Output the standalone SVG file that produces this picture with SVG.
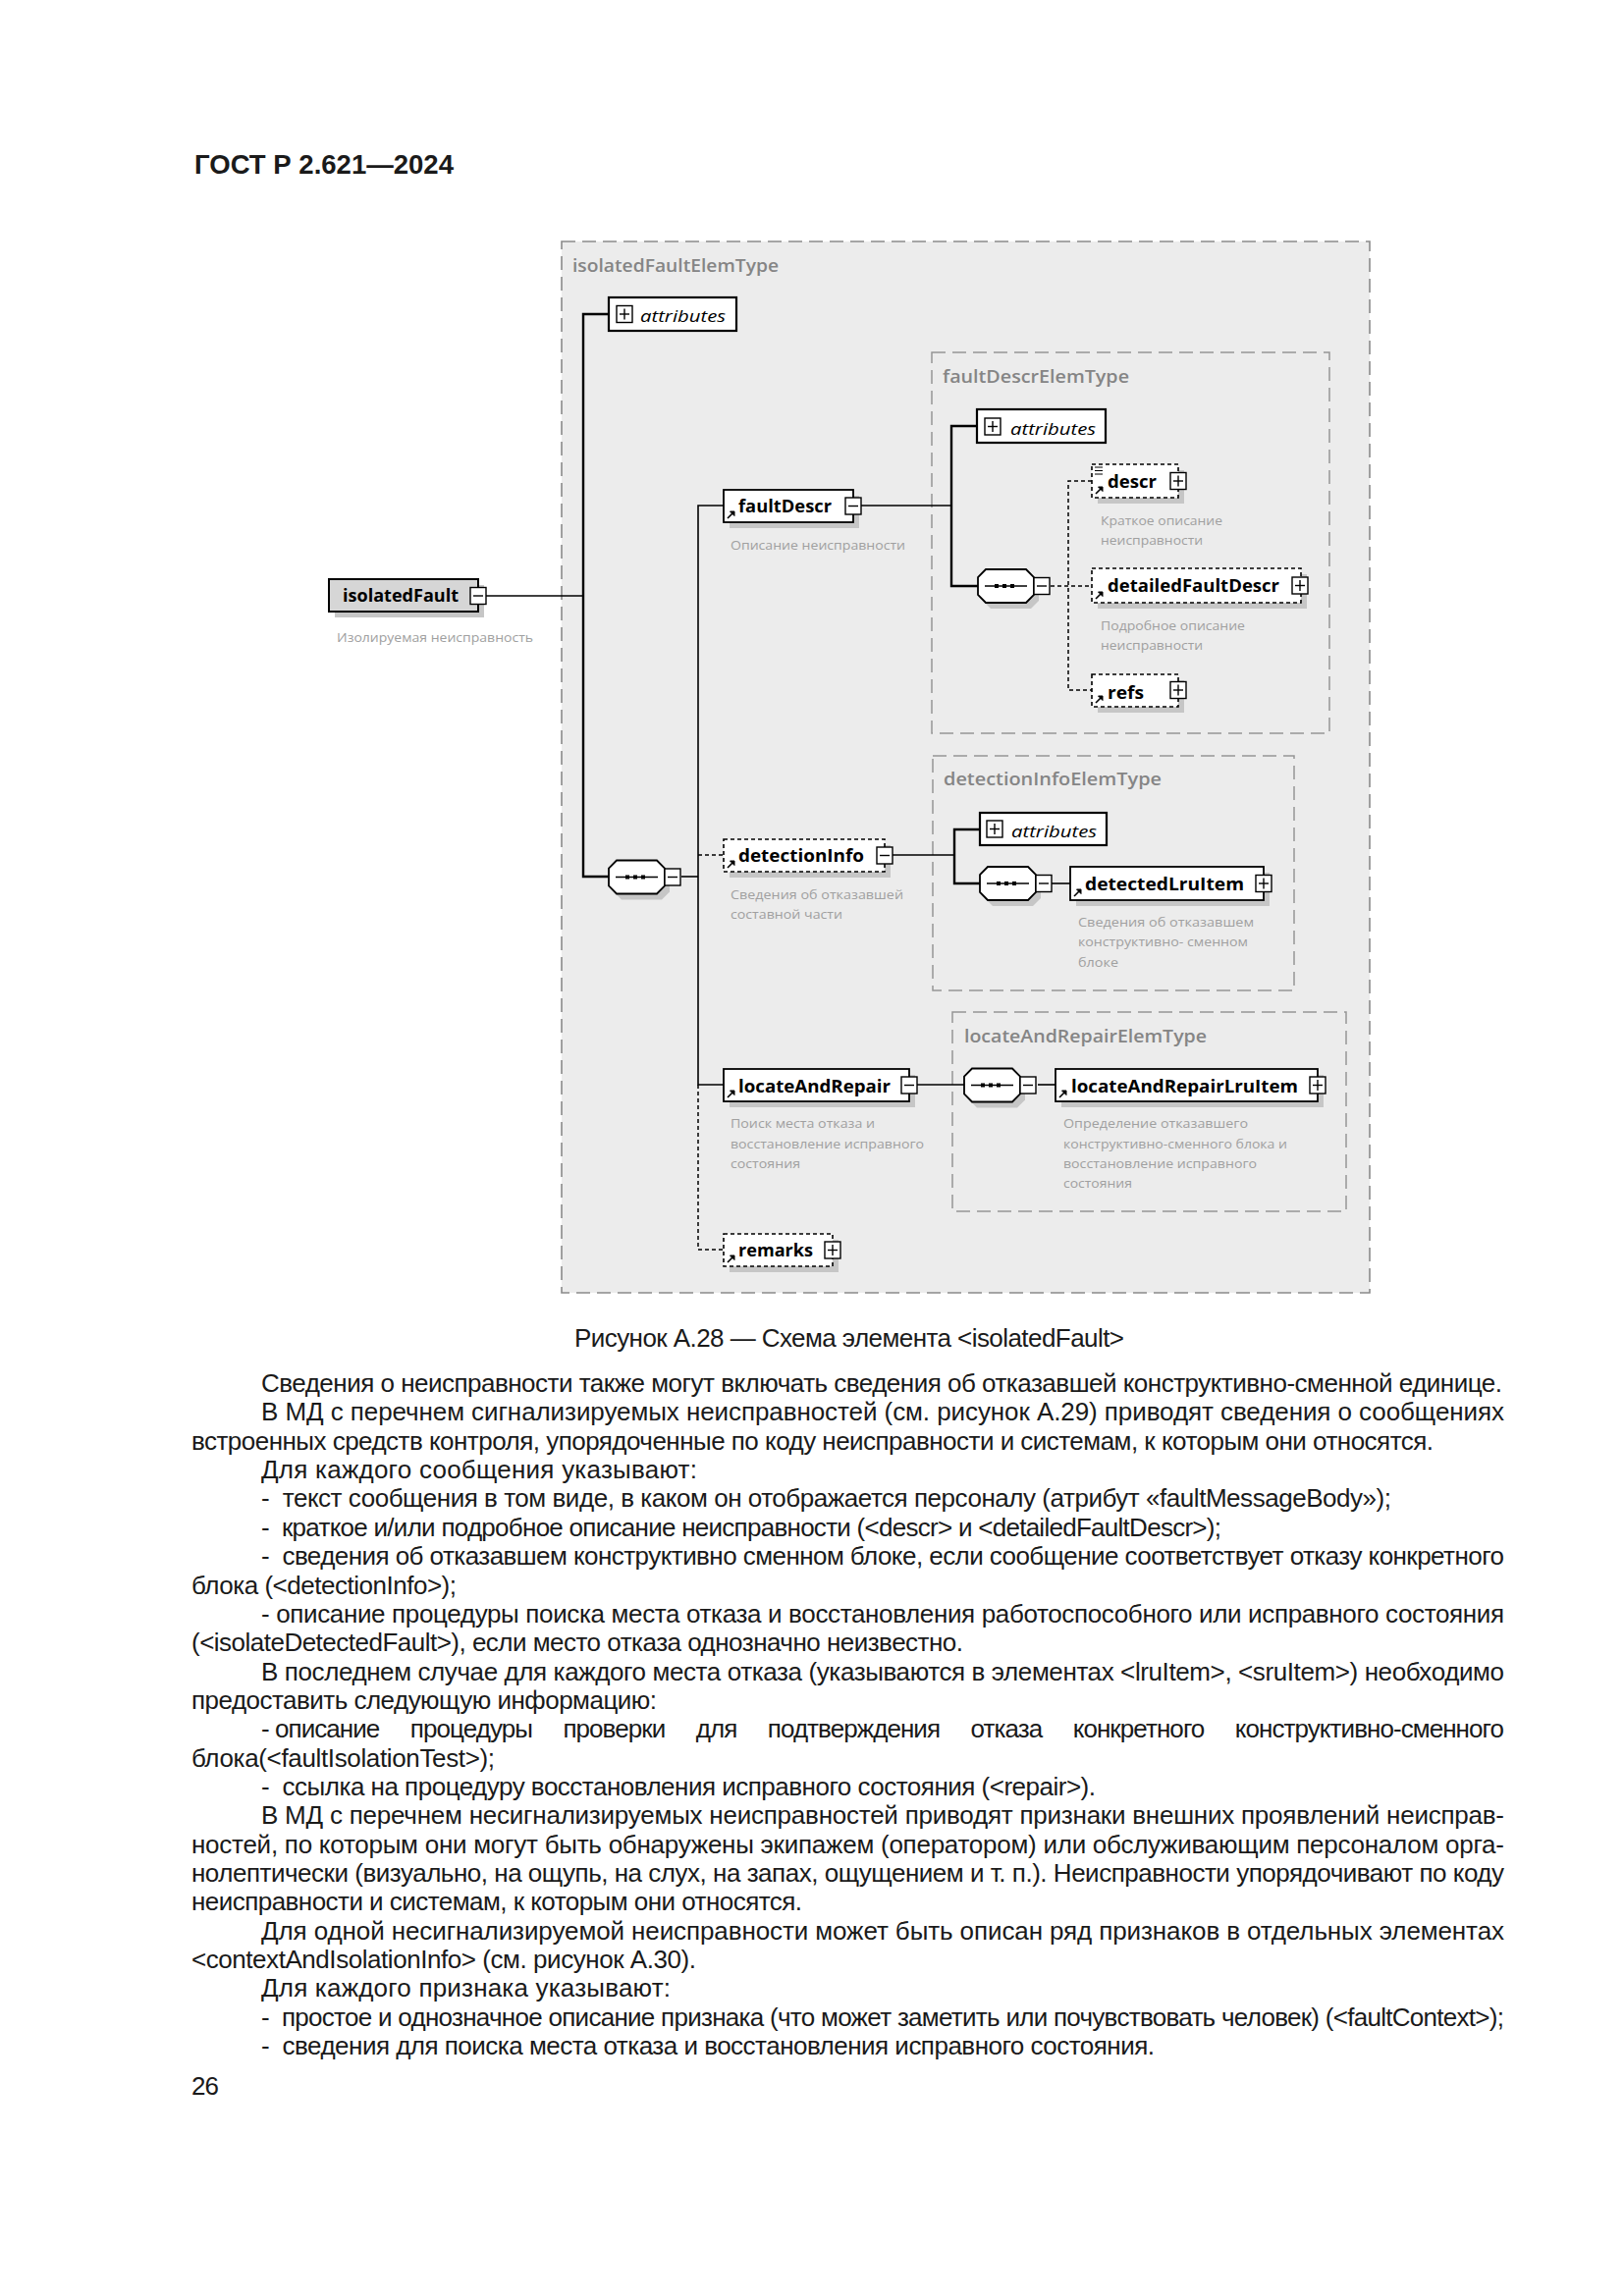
<svg xmlns="http://www.w3.org/2000/svg" xmlns:xlink="http://www.w3.org/1999/xlink" width="1654" height="2339" viewBox="0 0 1654 2339">
<style>
.page{fill:#ffffff}
.outer{fill:#ececec;stroke:#8a8a8a;stroke-width:1.6;stroke-dasharray:14 7}
.tbox{fill:#ececec;stroke:#959595;stroke-width:1.5;stroke-dasharray:14 7}
.ttl{font-family:"Open Sans","Noto Sans",sans-serif;font-weight:600;font-size:18px;fill:#858585}
.node{fill:#ffffff;stroke:#000;stroke-width:1.8}
.root{fill:#d6d6d6;stroke:#000;stroke-width:2}
.opt{fill:#ffffff;stroke:#000;stroke-width:1.6;stroke-dasharray:4 3}
.attr{fill:#ffffff;stroke:#000;stroke-width:2.2}
.shd{fill:#c6c6c6}
.nt{font-family:"Open Sans","Noto Sans",sans-serif;font-weight:bold;font-size:18px;fill:#000}
.at{font-family:"Open Sans","Noto Sans",sans-serif;font-style:italic;font-size:17px;fill:#000}
.lb{font-family:"Open Sans","Noto Sans",sans-serif;font-size:12.5px;fill:#a0a0a0}
.ln{fill:none;stroke:#000;stroke-width:1.6}
.lnb{fill:none;stroke:#000;stroke-width:2.4}
.dl{fill:none;stroke:#000;stroke-width:1.5;stroke-dasharray:4 3}
.pm{fill:#ffffff;stroke:#000;stroke-width:1.4}
.body{font-family:"Liberation Sans",Arial,sans-serif;font-size:26px;fill:#1a1a1a;white-space:pre}
.hdr{font-family:"Liberation Sans",Arial,sans-serif;font-size:27px;font-weight:bold;fill:#1a1a1a}
</style>
<defs>
<g id="minus"><rect class="pm" x="0" y="0" width="16" height="17"/><line x1="3" y1="8.5" x2="13" y2="8.5" stroke="#000" stroke-width="1.4"/></g>
<g id="plus"><rect class="pm" x="0" y="0" width="16" height="17"/><line x1="3" y1="8.5" x2="13" y2="8.5" stroke="#000" stroke-width="1.4"/><line x1="8" y1="3" x2="8" y2="14" stroke="#000" stroke-width="1.4"/></g>
<g id="ref"><path d="M2,-2 L8,-8" stroke="#000" stroke-width="1.6" fill="none"/><path d="M4.5,-9 L9,-9 L9,-4.5 Z" fill="#000" stroke="#000" stroke-width="1"/></g>
<g id="seq">
<polygon class="shd" points="13,6 54,6 62,14 62,32 54,40 13,40 5,32 5,14"/>
<polygon fill="#ffffff" stroke="#000" stroke-width="1.8" points="8,0 49,0 57,8 57,26 49,34 8,34 0,26 0,8"/>
<line x1="7" y1="17" x2="50" y2="17" stroke="#000" stroke-width="1.6"/>
<rect x="17" y="15" width="4" height="4" fill="#000"/><rect x="25" y="15" width="4" height="4" fill="#000"/><rect x="33" y="15" width="4" height="4" fill="#000"/>
<use xlink:href="#minus" x="57" y="8.5"/>
</g>
</defs>

<rect class="page" x="0" y="0" width="1654" height="2339"/>
<text class="hdr" x="198" y="177" textLength="264" lengthAdjust="spacingAndGlyphs">ГОСТ Р 2.621—2024</text>

<g id="isolatedFaultElemType">
<rect class="outer" x="572" y="246" width="823" height="1071"/>
<text class="ttl" x="583" y="277" textLength="210" lengthAdjust="spacingAndGlyphs">isolatedFaultElemType</text>
</g>
<g id="faultDescrElemType">
<rect class="tbox" x="949" y="359" width="405" height="388"/>
<text class="ttl" x="960" y="390" textLength="190" lengthAdjust="spacingAndGlyphs">faultDescrElemType</text>
</g>
<g id="detectionInfoElemType">
<rect class="tbox" x="950" y="770" width="368" height="239"/>
<text class="ttl" x="961" y="800" textLength="222" lengthAdjust="spacingAndGlyphs">detectionInfoElemType</text>
</g>
<g id="locateAndRepairElemType">
<rect class="tbox" x="970" y="1031" width="401" height="203"/>
<text class="ttl" x="982" y="1062" textLength="247" lengthAdjust="spacingAndGlyphs">locateAndRepairElemType</text>
</g>

<g id="connectors">
<path class="ln" d="M495,607 H594"/>
<path class="lnb" d="M620,320 H594 V893 H620"/>
<path class="ln" d="M694,893 H711"/>
<path class="ln" d="M737,515 H711 V1105 H737"/>
<path class="dl" d="M711,871 H737"/>
<path class="dl" d="M711,1105 V1273 H737"/>
<path class="ln" d="M877,515 H969"/>
<path class="lnb" d="M995,434 H969 V597 H996"/>
<path class="dl" d="M1070,597 H1112"/>
<path class="dl" d="M1112,490 H1088 V703 H1112"/>
<path class="ln" d="M909,871 H972"/>
<path class="lnb" d="M998,845 H972 V900 H998"/>
<path class="ln" d="M1071,900 H1090"/>
<path class="ln" d="M934,1105 H982"/>
<path class="ln" d="M1057,1105 H1075"/>
</g>

<g id="isolatedFault">
<rect class="shd" x="341" y="596" width="152" height="33"/>
<rect class="root" x="335" y="590" width="152" height="33"/>
<text class="nt" x="349" y="613" textLength="118" lengthAdjust="spacingAndGlyphs">isolatedFault</text>
<use xlink:href="#minus" x="479" y="598.5"/>
<text class="lb" x="343" y="654" textLength="200" lengthAdjust="spacingAndGlyphs">Изолируемая неисправность</text>
</g>

<g id="attributes1">
<rect class="attr" x="620" y="303" width="130" height="34"/>
<use xlink:href="#plus" x="628" y="311.5"/>
<text class="at" x="652" y="328" textLength="87" lengthAdjust="spacingAndGlyphs">attributes</text>
</g>

<g id="sequence1"><use xlink:href="#seq" transform="translate(620,876.5)"/></g>

<g id="faultDescr">
<rect class="shd" x="743" y="505" width="132" height="33"/>
<rect class="node" x="737" y="499" width="132" height="33"/>
<use xlink:href="#ref" x="739" y="530"/>
<text class="nt" x="752" y="522" textLength="95" lengthAdjust="spacingAndGlyphs">faultDescr</text>
<use xlink:href="#minus" x="861" y="507"/>
<text class="lb" x="744" y="560" textLength="178" lengthAdjust="spacingAndGlyphs">Описание неисправности</text>
</g>

<g id="attributes2">
<rect class="attr" x="995" y="417" width="131" height="34"/>
<use xlink:href="#plus" x="1003" y="426"/>
<text class="at" x="1029" y="443" textLength="87" lengthAdjust="spacingAndGlyphs">attributes</text>
</g>

<g id="sequence2"><use xlink:href="#seq" transform="translate(996,580)"/></g>

<g id="descr">
<rect class="shd" x="1118" y="479" width="88" height="34"/>
<rect class="opt" x="1112" y="473" width="88" height="34"/>
<path d="M1115,476 H1123 M1115,479.5 H1123 M1115,483 H1123" stroke="#000" stroke-width="1.2"/>
<use xlink:href="#ref" x="1114" y="505"/>
<text class="nt" x="1128" y="497" textLength="50" lengthAdjust="spacingAndGlyphs">descr</text>
<use xlink:href="#plus" x="1192" y="481.5"/>
<text class="lb" x="1121" y="535" textLength="124" lengthAdjust="spacingAndGlyphs">Краткое описание</text>
<text class="lb" x="1121" y="555" textLength="104" lengthAdjust="spacingAndGlyphs">неисправности</text>
</g>

<g id="detailedFaultDescr">
<rect class="shd" x="1118" y="585" width="213" height="35"/>
<rect class="opt" x="1112" y="579" width="213" height="35"/>
<use xlink:href="#ref" x="1114" y="612"/>
<text class="nt" x="1128" y="603" textLength="175" lengthAdjust="spacingAndGlyphs">detailedFaultDescr</text>
<use xlink:href="#plus" x="1316" y="588"/>
<text class="lb" x="1121" y="642" textLength="147" lengthAdjust="spacingAndGlyphs">Подробное описание</text>
<text class="lb" x="1121" y="662" textLength="104" lengthAdjust="spacingAndGlyphs">неисправности</text>
</g>

<g id="refs">
<rect class="shd" x="1118" y="693" width="88" height="33"/>
<rect class="opt" x="1112" y="687" width="88" height="33"/>
<use xlink:href="#ref" x="1114" y="718"/>
<text class="nt" x="1128" y="712" textLength="37" lengthAdjust="spacingAndGlyphs">refs</text>
<use xlink:href="#plus" x="1192" y="694.5"/>
</g>

<g id="detectionInfo">
<rect class="shd" x="743" y="861" width="164" height="33"/>
<rect class="opt" x="737" y="855" width="164" height="33"/>
<use xlink:href="#ref" x="739" y="886"/>
<text class="nt" x="752" y="878" textLength="128" lengthAdjust="spacingAndGlyphs">detectionInfo</text>
<use xlink:href="#minus" x="893" y="863"/>
<text class="lb" x="744" y="916" textLength="176" lengthAdjust="spacingAndGlyphs">Сведения об отказавшей</text>
<text class="lb" x="744" y="936" textLength="114" lengthAdjust="spacingAndGlyphs">составной части</text>
</g>

<g id="attributes3">
<rect class="attr" x="998" y="828" width="129" height="33"/>
<use xlink:href="#plus" x="1005" y="836"/>
<text class="at" x="1030" y="853" textLength="87" lengthAdjust="spacingAndGlyphs">attributes</text>
</g>

<g id="sequence3"><use xlink:href="#seq" transform="translate(998,883)"/></g>

<g id="detectedLruItem">
<rect class="shd" x="1096" y="889" width="197" height="34"/>
<rect class="node" x="1090" y="883" width="197" height="34"/>
<use xlink:href="#ref" x="1092" y="915"/>
<text class="nt" x="1105" y="907" textLength="162" lengthAdjust="spacingAndGlyphs">detectedLruItem</text>
<use xlink:href="#plus" x="1279" y="891.5"/>
<text class="lb" x="1098" y="944" textLength="179" lengthAdjust="spacingAndGlyphs">Сведения об отказавшем</text>
<text class="lb" x="1098" y="964" textLength="173" lengthAdjust="spacingAndGlyphs">конструктивно- сменном</text>
<text class="lb" x="1098" y="985" textLength="41" lengthAdjust="spacingAndGlyphs">блоке</text>
</g>

<g id="locateAndRepair">
<rect class="shd" x="743" y="1095" width="189" height="33"/>
<rect class="node" x="737" y="1089" width="189" height="33"/>
<use xlink:href="#ref" x="739" y="1120"/>
<text class="nt" x="752" y="1113" textLength="155" lengthAdjust="spacingAndGlyphs">locateAndRepair</text>
<use xlink:href="#minus" x="918" y="1097"/>
<text class="lb" x="744" y="1149" textLength="147" lengthAdjust="spacingAndGlyphs">Поиск места отказа и</text>
<text class="lb" x="744" y="1170" textLength="197" lengthAdjust="spacingAndGlyphs">восстановление исправного</text>
<text class="lb" x="744" y="1190" textLength="71" lengthAdjust="spacingAndGlyphs">состояния</text>
</g>

<g id="sequence4"><use xlink:href="#seq" transform="translate(982,1088.5)"/></g>

<g id="locateAndRepairLruItem">
<rect class="shd" x="1081" y="1095" width="267" height="33"/>
<rect class="node" x="1075" y="1089" width="267" height="33"/>
<use xlink:href="#ref" x="1077" y="1120"/>
<text class="nt" x="1091" y="1113" textLength="231" lengthAdjust="spacingAndGlyphs">locateAndRepairLruItem</text>
<use xlink:href="#plus" x="1334" y="1097"/>
<text class="lb" x="1083" y="1149" textLength="188" lengthAdjust="spacingAndGlyphs">Определение отказавшего</text>
<text class="lb" x="1083" y="1170" textLength="228" lengthAdjust="spacingAndGlyphs">конструктивно-сменного блока и</text>
<text class="lb" x="1083" y="1190" textLength="197" lengthAdjust="spacingAndGlyphs">восстановление исправного</text>
<text class="lb" x="1083" y="1210" textLength="70" lengthAdjust="spacingAndGlyphs">состояния</text>
</g>

<g id="remarks">
<rect class="shd" x="743" y="1263" width="111" height="33"/>
<rect class="opt" x="737" y="1257" width="111" height="33"/>
<use xlink:href="#ref" x="739" y="1288"/>
<text class="nt" x="752" y="1280" textLength="76" lengthAdjust="spacingAndGlyphs">remarks</text>
<use xlink:href="#plus" x="840" y="1265"/>
</g>

<g id="caption-and-text">
<text class="body" x="585" y="1372" font-size="25" textLength="560">Рисунок А.28 — Схема элемента &lt;isolatedFault&gt;</text>
<text class="body" x="266" y="1418" textLength="1264">Сведения о неисправности также могут включать сведения об отказавшей конструктивно-сменной единице.</text>
<text class="body" x="266" y="1447.4" textLength="1266">В МД с перечнем сигнализируемых неисправностей (см. рисунок А.29) приводят сведения о сообщениях</text>
<text class="body" x="195" y="1476.7" textLength="1265">встроенных средств контроля, упорядоченные по коду неисправности и системам, к которым они относятся.</text>
<text class="body" x="266" y="1506" textLength="444">Для каждого сообщения указывают:</text>
<text class="body" x="266" y="1535.4" textLength="1151">-  текст сообщения в том виде, в каком он отображается персоналу (атрибут «faultMessageBody»);</text>
<text class="body" x="266" y="1564.8" textLength="978">-  краткое и/или подробное описание неисправности (&lt;descr&gt; и &lt;detailedFaultDescr&gt;);</text>
<text class="body" x="266" y="1594.1" textLength="1266">-  сведения об отказавшем конструктивно сменном блоке, если сообщение соответствует отказу конкретного</text>
<text class="body" x="195" y="1623.5" textLength="270">блока (&lt;detectionInfo&gt;);</text>
<text class="body" x="266" y="1652.8" textLength="1266">- описание процедуры поиска места отказа и восстановления работоспособного или исправного состояния</text>
<text class="body" x="195" y="1682.2" textLength="786">(&lt;isolateDetectedFault&gt;), если место отказа однозначно неизвестно.</text>
<text class="body" x="266" y="1711.5" textLength="1266">В последнем случае для каждого места отказа (указываются в элементах &lt;lruItem&gt;, &lt;sruItem&gt;) необходимо</text>
<text class="body" x="195" y="1740.9" textLength="474">предоставить следующую информацию:</text>
<text class="body" x="266" y="1770.2" textLength="1266">- описание     процедуры     проверки     для     подтверждения     отказа     конкретного     конструктивно-сменного</text>
<text class="body" x="195" y="1799.6" textLength="309">блока(&lt;faultIsolationTest&gt;);</text>
<text class="body" x="266" y="1828.9" textLength="850">-  ссылка на процедуру восстановления исправного состояния (&lt;repair&gt;).</text>
<text class="body" x="266" y="1858.3" textLength="1266">В МД с перечнем несигнализируемых неисправностей приводят признаки внешних проявлений неисправ-</text>
<text class="body" x="195" y="1887.6" textLength="1337">ностей, по которым они могут быть обнаружены экипажем (оператором) или обслуживающим персоналом орга-</text>
<text class="body" x="195" y="1917" textLength="1337">нолептически (визуально, на ощупь, на слух, на запах, ощущением и т. п.). Неисправности упорядочивают по коду</text>
<text class="body" x="195" y="1946.3" textLength="622">неисправности и системам, к которым они относятся.</text>
<text class="body" x="266" y="1975.7" textLength="1266">Для одной несигнализируемой неисправности может быть описан ряд признаков в отдельных элементах</text>
<text class="body" x="195" y="2005" textLength="514">&lt;contextAndIsolationInfo&gt; (см. рисунок А.30).</text>
<text class="body" x="266" y="2034.4" textLength="417">Для каждого признака указывают:</text>
<text class="body" x="266" y="2063.7" textLength="1266">-  простое и однозначное описание признака (что может заметить или почувствовать человек) (&lt;faultContext&gt;);</text>
<text class="body" x="266" y="2093.1" textLength="910">-  сведения для поиска места отказа и восстановления исправного состояния.</text>
<text class="body" x="195" y="2134" font-size="25" textLength="28">26</text>
</g>
</svg>
